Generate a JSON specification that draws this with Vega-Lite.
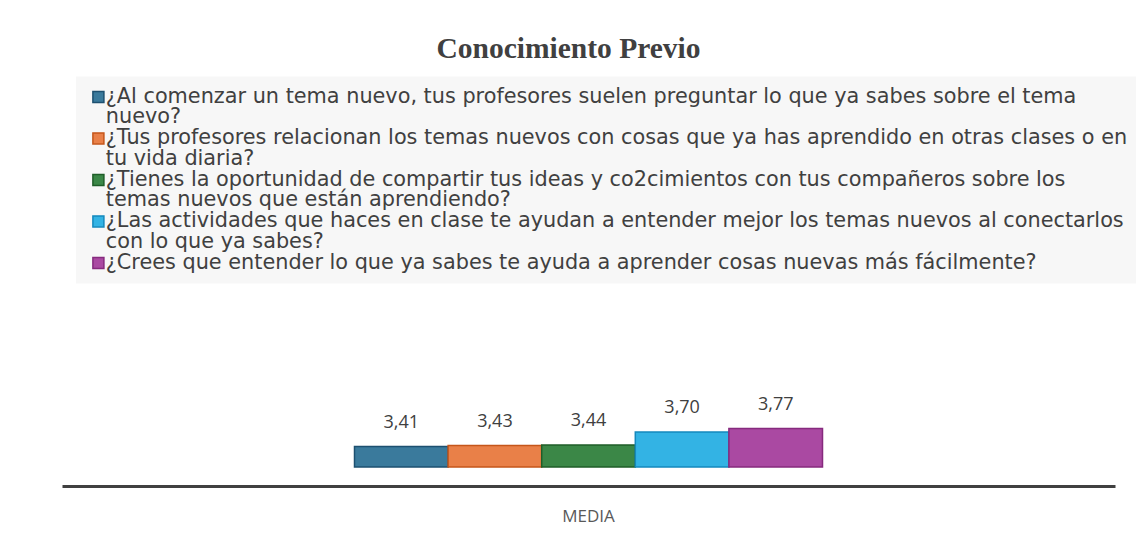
{
  "$schema": "https://vega.github.io/schema/vega-lite/v6.json",
  "width": 1053,
  "height": 80,
  "autosize": {"type": "pad"},
  "padding": {"left": 62, "top": 34, "right": 0, "bottom": 12},
  "background": "white",
  "title": {
    "text": "Conocimiento Previo",
    "font": "Liberation Serif",
    "fontSize": 29.5,
    "fontWeight": "bold",
    "color": "#404040",
    "anchor": "middle",
    "dx": -20,
    "offset": 12
  },
  "data": {
    "values": [
      {"pregunta": "¿Al comenzar un tema nuevo, tus profesores suelen preguntar lo que ya sabes sobre el tema\nnuevo?", "medida": "MEDIA", "valor": 3.41},
      {"pregunta": "¿Tus profesores relacionan los temas nuevos con cosas que ya has aprendido en otras clases o en\ntu vida diaria?", "medida": "MEDIA", "valor": 3.43},
      {"pregunta": "¿Tienes la oportunidad de compartir tus ideas y co2cimientos con tus compañeros sobre los\ntemas nuevos que están aprendiendo?", "medida": "MEDIA", "valor": 3.44},
      {"pregunta": "¿Las actividades que haces en clase te ayudan a entender mejor los temas nuevos al conectarlos\ncon lo que ya sabes?", "medida": "MEDIA", "valor": 3.70},
      {"pregunta": "¿Crees que entender lo que ya sabes te ayuda a aprender cosas nuevas más fácilmente?", "medida": "MEDIA", "valor": 3.77}
    ]
  },
  "encoding": {
    "x": {
      "field": "medida",
      "type": "nominal",
      "scale": {"paddingInner": 0, "paddingOuter": 0.625},
      "axis": {
        "title": null,
        "offset": 19,
        "domainColor": "#404040",
        "domainWidth": 3,
        "ticks": false,
        "labelAngle": 0,
        "labelPadding": 22,
        "labelFont": "Open Sans",
        "labelFontSize": 17,
        "labelColor": "#595959"
      }
    },
    "xOffset": {"field": "pregunta", "type": "nominal", "sort": null, "scale": {"paddingInner": 0}},
    "y": {
      "field": "valor",
      "type": "quantitative",
      "scale": {"domain": [3, 4.6], "zero": false, "nice": false},
      "axis": null
    }
  },
  "layer": [
    {
      "mark": {"type": "bar", "strokeWidth": 1.5},
      "encoding": {
        "y2": {"datum": 3},
        "fill": {
          "field": "pregunta",
          "type": "nominal",
          "sort": null,
          "scale": {"range": ["#3a7a9c", "#e98048", "#3b8747", "#33b3e4", "#aa49a2"]},
          "legend": {
            "orient": "none",
            "legendX": 14,
            "legendY": -310.5,
            "title": null,
            "direction": "vertical",
            "symbolType": "square",
            "symbolSize": 121,
            "symbolStrokeWidth": 1.5,
            "symbolOffset": 2,
            "labelFont": "DejaVu Sans",
            "labelFontSize": 20.8,
            "labelColor": "#404040",
            "labelLimit": 2000,
            "labelExpr": "split(datum.label, '\\n')",
            "labelBaseline": "middle",
            "labelOffset": -3,
            "padding": 10,
            "rowPadding": -0.5,
            "fillColor": "#f7f7f7"
          }
        },
        "stroke": {
          "field": "pregunta",
          "type": "nominal",
          "sort": null,
          "scale": {"range": ["#1d5070", "#c5561a", "#1f5e28", "#1589bd", "#862a7e"]},
          "legend": {
            "orient": "none",
            "legendX": 14,
            "legendY": -310.5,
            "title": null,
            "direction": "vertical",
            "symbolType": "square",
            "symbolSize": 121,
            "symbolStrokeWidth": 1.5,
            "symbolOffset": 2,
            "labelFont": "DejaVu Sans",
            "labelFontSize": 20.8,
            "labelColor": "#404040",
            "labelLimit": 2000,
            "labelExpr": "split(datum.label, '\\n')",
            "labelBaseline": "middle",
            "labelOffset": -3,
            "padding": 10,
            "rowPadding": -0.5,
            "fillColor": "#f7f7f7"
          }
        }
      }
    },
    {
      "mark": {"type": "text", "baseline": "alphabetic", "dy": -19, "font": "Open Sans", "fontSize": 18, "color": "#404040"},
      "encoding": {"text": {"field": "valor", "type": "quantitative", "format": ".2f"}}
    }
  ],
  "config": {
    "view": {"stroke": null},
    "style": {"guide-label": {"lineHeight": 20.5}},
    "locale": {"number": {"decimal": ",", "thousands": ".", "grouping": [3], "currency": ["", " €"]}}
  }
}
